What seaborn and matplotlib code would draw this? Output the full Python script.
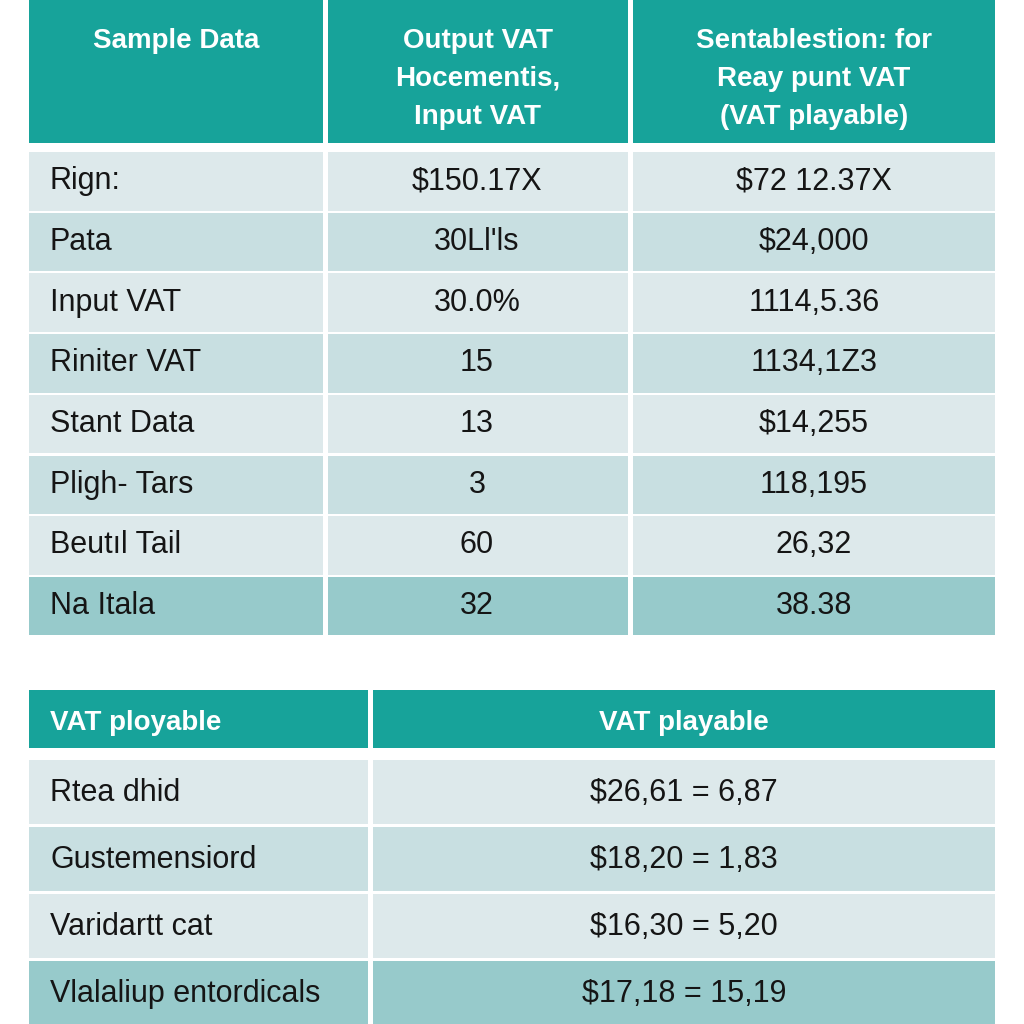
import matplotlib.pyplot as plt
import matplotlib.patches as mpatches
import seaborn as sns

# top table
top_header = ["Sample Data",
              "Output VAT\nHocementis,\nInput VAT",
              "Sentablestion: for\nReay punt VAT\n(VAT playable)"]
top_labels = ["Rign:", "Pata", "Input VAT", "Riniter VAT", "Stant Data",
              "Pligh- Tars", "Beutıl Tail", "Na Itala"]
top_col2 = ["$150.17X", "30Ll'ls", "30.0%", "15", "13", "3", "60", "32"]
top_col3 = ["$72 12.37X", "$24,000", "1114,5.36", "1134,1Z3", "$14,255",
            "118,195", "26,32", "38.38"]

# bottom table
bottom_header = ["VAT ployable", "VAT playable"]
bottom_labels = ["Rtea dhid", "Gustemensiord", "Varidartt cat",
                 "Vlalaliup entordicals"]
bottom_values = ["$26,61 = 6,87", "$18,20 = 1,83", "$16,30 = 5,20",
                 "$17,18 = 15,19"]

sns.set_theme(style="white")
plt.rcParams['font.family'] = ['Liberation Sans', 'DejaVu Sans']

teal = "#17a39a"
light = "#dde9eb"
mid = "#c8dfe1"
last = "#97cacb"
text_c = "#151515"

fig = plt.figure(figsize=(10.24, 10.24), dpi=100)
ax = fig.add_axes([0, 0, 1, 1])
ax.set_xlim(0, 1024)
ax.set_ylim(1024, 0)
ax.axis("off")


def cell(x0, x1, y0, y1, color):
    ax.add_patch(mpatches.Rectangle((x0, y0), x1 - x0, y1 - y0,
                                    facecolor=color, edgecolor="none"))


# top table
cols = [(29, 323), (328, 628), (633, 995)]
for (x0, x1) in cols:
    cell(x0, x1, 0, 143, teal)
for j, txt in enumerate(top_header):
    xc = (cols[j][0] + cols[j][1]) / 2
    for k, line in enumerate(txt.split("\n")):
        ax.text(xc, 41 + k * 38, line, ha="center", va="center", color="white",
                fontsize=20, fontweight="bold")

row_h = 60.7
y_start = 152
for i in range(len(top_labels)):
    y0 = y_start + i * row_h
    y1 = y0 + row_h - 2.2
    if i == len(top_labels) - 1:
        c = last
    elif i % 2 == 0:
        c = light
    else:
        c = mid
    for (x0, x1) in cols:
        cell(x0, x1, y0, y1, c)
    yc = (y0 + y1) / 2
    ax.text(50, yc, top_labels[i], ha="left", va="center", color=text_c, fontsize=22)
    ax.text(477, yc, top_col2[i], ha="center", va="center", color=text_c, fontsize=22)
    ax.text(814, yc, top_col3[i], ha="center", va="center", color=text_c, fontsize=22)

# bottom table
bcols = [(29, 368), (373, 995)]
for (x0, x1) in bcols:
    cell(x0, x1, 690, 748, teal)
ax.text(50, 723, bottom_header[0], ha="left", va="center", color="white",
        fontsize=20, fontweight="bold")
ax.text(684, 723, bottom_header[1], ha="center", va="center", color="white",
        fontsize=20, fontweight="bold")

brow_h = 67
by_start = 760
for i in range(len(bottom_labels)):
    y0 = by_start + i * brow_h
    y1 = y0 + brow_h - 3
    if i == len(bottom_labels) - 1:
        c = last
        y1 = 1024
    elif i % 2 == 0:
        c = light
    else:
        c = mid
    for (x0, x1) in bcols:
        cell(x0, x1, y0, y1, c)
    yc = y0 + (brow_h - 3) / 2 + 1
    ax.text(50, yc, bottom_labels[i], ha="left", va="center", color=text_c, fontsize=22)
    ax.text(684, yc, bottom_values[i], ha="center", va="center", color=text_c, fontsize=22)

fig.savefig("out.png", dpi=100, facecolor="white")
